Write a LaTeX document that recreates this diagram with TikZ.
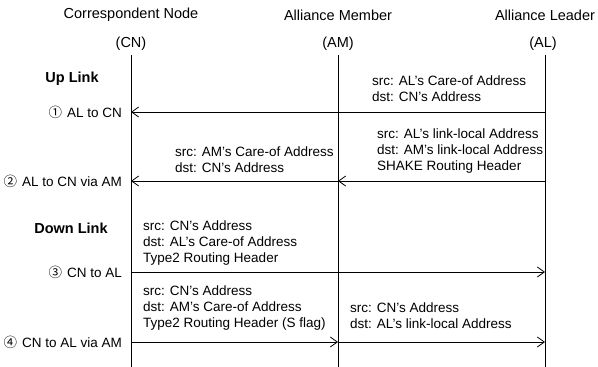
\documentclass[tikz,border=0pt]{standalone}
\usepackage{fontspec}
\setmainfont{Liberation Sans}
\newfontfamily\cjk{Noto Sans CJK JP}
\usetikzlibrary{arrows.meta}
\tikzset{
  hdr/.style={inner sep=0pt, font=\fontsize{14.5}{17}\selectfont},
  lbl/.style={inner sep=0pt, align=left, anchor=west, font=\fontsize{13.5}{16}\selectfont},
  steplbl/.style={inner sep=0pt, anchor=east, font=\fontsize{13.5}{16}\selectfont},
  sect/.style={inner sep=0pt, font=\fontsize{14.5}{17}\selectfont\bfseries},
  life/.style={line width=0.9pt},
  msg/.style={line width=0.9pt, -{Straight Barb[length=7pt,width=10pt,line width=0.8pt]}}
}
\newcommand{\cnum}[1]{{\cjk\fontsize{13.5}{16}\selectfont #1}\hspace{5pt}}
\begin{document}
\begin{tikzpicture}[x=1pt,y=-1pt]
\useasboundingbox (0,0) rectangle (598,367);
% headers
\node[hdr] (hcn) at (131,15) {Correspondent Node};
\node[hdr] (ham) at (338,15) {Alliance Member};
\node[hdr] (hal) at (545,15) {Alliance Leader};
\node[hdr] (acn) at (131,44) {(CN)};
\node[hdr] (aam) at (338,44) {(AM)};
\node[hdr] (aal) at (543,44) {(AL)};
% lifelines
\coordinate (cnt) at (131,55); \coordinate (cnb) at (131,367);
\coordinate (amt) at (338,55); \coordinate (amb) at (338,367);
\coordinate (alt) at (545,55); \coordinate (alb) at (545,367);
\draw[life] (cnt) -- (cnb);
\draw[life] (amt) -- (amb);
\draw[life] (alt) -- (alb);
% section titles
\node[sect] (up) at (72,79) {Up Link};
\node[sect] (down) at (71,228) {Down Link};
% message 1
\coordinate (al1) at (545,112); \coordinate (cn1) at (131,112);
\draw[msg] (al1) -- (cn1);
\node[lbl] (l1) at (372,88.5) {src: AL’s Care-of Address\\dst: CN’s Address};
\node[steplbl] (s1) at (122,112) {\cnum{①}AL to CN};
% message 2
\coordinate (al2) at (545,181); \coordinate (am2) at (338,181); \coordinate (cn2) at (131,181);
\draw[msg] (al2) -- (am2);
\draw[msg] (am2) -- (cn2);
\node[lbl] (l2r) at (377,151) {src: AL’s link-local Address\\dst: AM’s link-local Address\\SHAKE Routing Header};
\node[lbl] (l2l) at (175,160) {src: AM’s Care-of Address\\dst: CN’s Address};
\node[steplbl] (s2) at (122,181) {\cnum{②}AL to CN via AM};
% message 3
\coordinate (cn3) at (131,272); \coordinate (al3) at (545,272);
\draw[msg] (cn3) -- (al3);
\node[lbl] (l3) at (143,243) {src: CN’s Address\\dst: AL’s Care-of Address\\Type2 Routing Header};
\node[steplbl] (s3) at (122,272) {\cnum{③}CN to AL};
% message 4
\coordinate (cn4) at (131,342); \coordinate (am4) at (338,342); \coordinate (al4) at (545,342);
\draw[msg] (cn4) -- (am4);
\draw[msg] (am4) -- (al4);
\node[lbl] (l4l) at (143,308) {src: CN’s Address\\dst: AM’s Care-of Address\\Type2 Routing Header (S flag)};
\node[lbl] (l4r) at (350,316) {src: CN’s Address\\dst: AL’s link-local Address};
\node[steplbl] (s4) at (122,342) {\cnum{④}CN to AL via AM};
\end{tikzpicture}
\end{document}
